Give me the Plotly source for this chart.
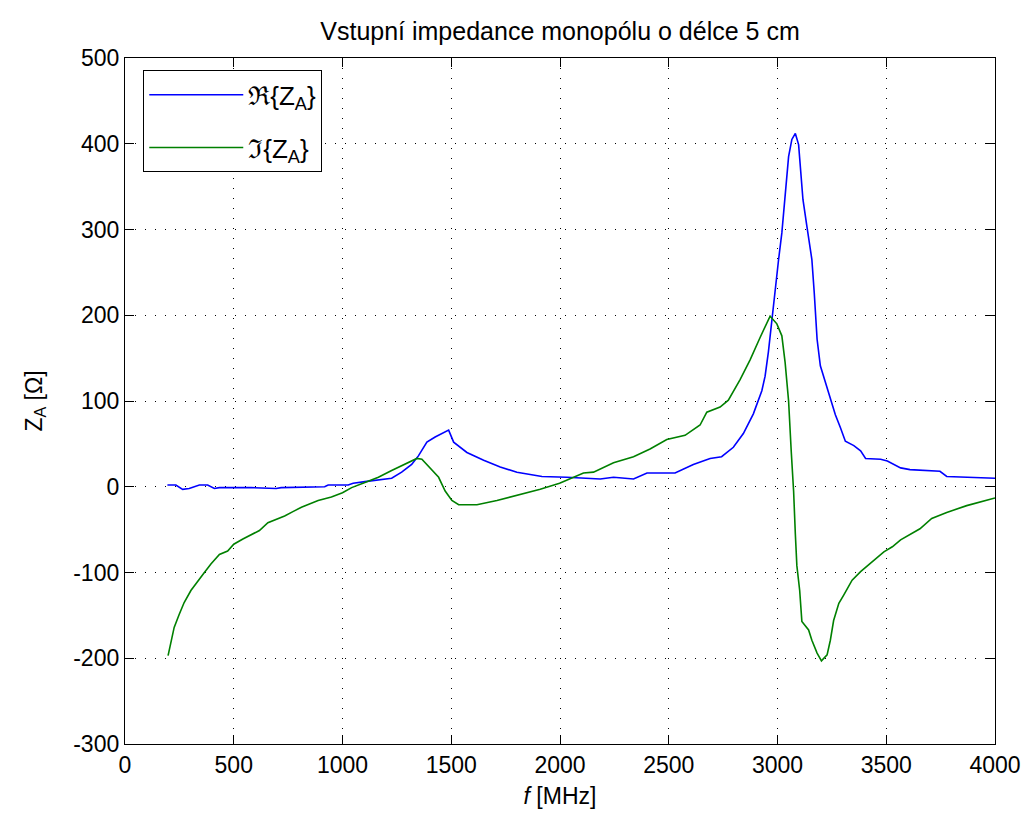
import plotly.graph_objects as go

# Real part of input impedance
f_re = [195, 234, 265, 295, 342, 380, 411, 434, 488, 580, 695, 718, 918, 934, 1026, 1049,
        1103, 1165, 1226, 1272, 1318, 1349, 1388, 1426, 1488, 1511, 1572, 1649, 1725, 1802,
        1917, 2031, 2185, 2246, 2338, 2400, 2529, 2613, 2690, 2743, 2797, 2843, 2889, 2928,
        2943, 2958, 2974, 2989, 3005, 3020, 3035, 3051, 3066, 3082, 3097, 3105, 3117, 3135,
        3158, 3169, 3182, 3197, 3220, 3243, 3266, 3289, 3312, 3351, 3382, 3405, 3474, 3505,
        3566, 3609, 3747, 3778, 4000]
re_vals = [2, 2, -3, -2, 2, 2, -2, -1, -1, -1, -2, -1, 0, 2, 2, 4,
           6, 8, 10, 17, 26, 36, 52, 58, 66, 52, 40, 31, 23, 17,
           12, 11, 9, 11, 9, 16, 16, 26, 33, 35, 46, 62, 85, 112,
           129, 157, 195, 234, 265, 296, 343, 385, 405, 412, 399, 370, 335, 304,
           265, 226, 172, 141, 122, 102, 84, 69, 53, 48, 42, 33, 32, 30,
           22, 20, 18, 12, 10]

# Imaginary part of input impedance
f_im = [198, 211, 226, 249, 272, 303, 334, 365, 395, 434, 472, 500, 542, 580, 618, 657,
        695, 734, 772, 811, 888, 949, 1000, 1042, 1103, 1165, 1226, 1288, 1342, 1365, 1411,
        1442, 1472, 1503, 1534, 1618, 1710, 1802, 1909, 1998, 2108, 2154, 2246, 2338, 2414,
        2491, 2575, 2644, 2675, 2736, 2774, 2828, 2874, 2920, 2966, 2997, 3020, 3035, 3051,
        3063, 3074, 3082, 3089, 3102, 3112, 3143, 3158, 3182, 3202, 3228, 3243, 3258, 3282,
        3305, 3343, 3382, 3428, 3489, 3528, 3566, 3655, 3709, 3778, 3870, 4000]
im_vals = [-197, -182, -164, -149, -135, -121, -110, -100, -90, -79, -75, -67, -61, -56, -51, -42,
           -38, -34, -29, -24, -16, -12, -7, -1, 5, 11, 19, 26, 33, 32, 19,
           11, -5, -16, -21, -21, -16, -10, -3, 4, 16, 17, 28, 35, 44,
           55, 60, 72, 87, 93, 101, 125, 148, 174, 199, 190, 176, 145, 100,
           42, -5, -55, -92, -121, -157, -167, -179, -194, -203, -196, -179, -156, -136,
           -126, -109, -99, -89, -76, -70, -62, -49, -37, -30, -22, -13]

x_ticks = [0, 500, 1000, 1500, 2000, 2500, 3000, 3500, 4000]
y_ticks = [-300, -200, -100, 0, 100, 200, 300, 400, 500]

FONT = "Liberation Sans, Arial, sans-serif"

fig = go.Figure()
fig.add_trace(go.Scatter(x=f_re, y=re_vals, mode="lines", name="ℜ{Z<sub>A</sub>}",
                         line=dict(color="#0000ff", width=1.6), legendgroup="a"))
fig.add_trace(go.Scatter(x=f_im, y=im_vals, mode="lines", name="ℑ{Z<sub>A</sub>}",
                         line=dict(color="#008000", width=1.6), legendgroup="b"))

axis_common = dict(
    showline=True, linecolor="black", linewidth=1.3, mirror="ticks",
    ticks="inside", ticklen=9, tickcolor="black", tickwidth=1,
    showgrid=True, gridcolor="black", gridwidth=1, griddash="1px,9px",
    zeroline=False, tickfont=dict(family=FONT, size=23, color="black"),
    ticklabeloverflow="allow",
)

fig.update_xaxes(range=[0, 4000], tickvals=x_ticks, ticktext=[str(v) for v in x_ticks],
                 title=dict(text="<i>f</i> [MHz]", font=dict(family=FONT, size=23, color="black"),
                            standoff=11),
                 **axis_common)
fig.update_yaxes(range=[-300, 500], tickvals=y_ticks, ticktext=[str(v) for v in y_ticks],
                 title=dict(text="Z<sub>A</sub> [Ω]", font=dict(family=FONT, size=23, color="black"),
                            standoff=24),
                 **axis_common)

fig.update_layout(
    width=1022, height=814,
    margin=dict(l=125, r=27, t=58, b=70, autoexpand=False),
    paper_bgcolor="white", plot_bgcolor="white",
    title=dict(text="Vstupní impedance monopólu o délce 5 cm", x=0.5, xanchor="center",
               xref="paper", y=0.962, yanchor="middle",
               font=dict(family=FONT, size=25, color="black")),
    legend=dict(x=0.021, y=0.982, xanchor="left", yanchor="top",
                bordercolor="black", borderwidth=1, bgcolor="white",
                font=dict(family=FONT, size=26, color="black"),
                tracegroupgap=16, itemwidth=94),
    showlegend=True,
)

fig.write_html("out.html", config={"displayModeBar": False},
               post_script="document.body.style.margin='0';")
